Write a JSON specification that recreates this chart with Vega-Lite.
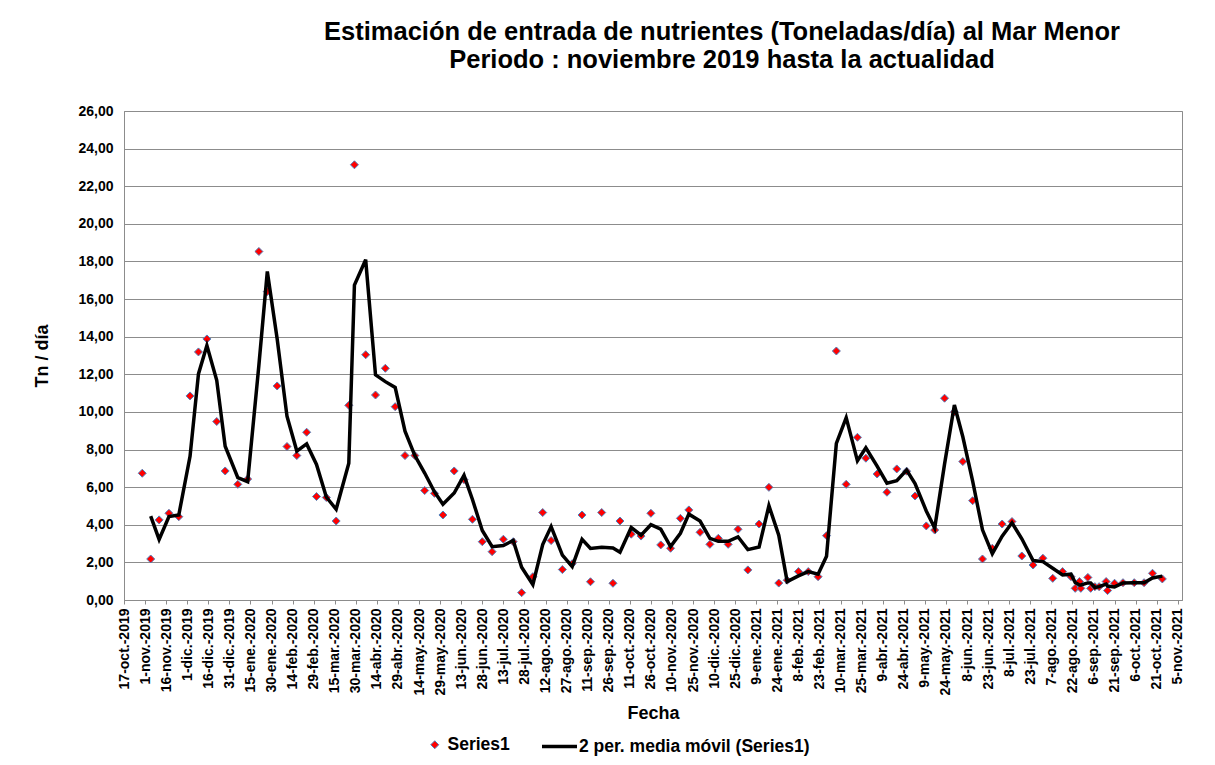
{
  "$schema": "https://vega.github.io/schema/vega-lite/v6.json",
  "width": 1058,
  "height": 489,
  "autosize": {"type": "none"},
  "padding": {"left": 124, "top": 111, "right": 33, "bottom": 165},
  "background": "white",
  "title": {
    "text": ["Estimación de entrada de nutrientes (Toneladas/día) al  Mar Menor", "Periodo : noviembre 2019 hasta la actualidad"],
    "font": "Liberation Sans",
    "fontSize": 25.5,
    "fontWeight": "bold",
    "color": "black",
    "anchor": "middle",
    "frame": "group",
    "dx": 69,
    "lineHeight": 28,
    "offset": 31
  },
  "data": {
    "values": [
      {"fecha": "2019-10-30", "valor": 6.74},
      {"fecha": "2019-11-05", "valor": 2.18},
      {"fecha": "2019-11-11", "valor": 4.26},
      {"fecha": "2019-11-18", "valor": 4.61},
      {"fecha": "2019-11-25", "valor": 4.43},
      {"fecha": "2019-12-03", "valor": 10.85},
      {"fecha": "2019-12-09", "valor": 13.19},
      {"fecha": "2019-12-15", "valor": 13.88},
      {"fecha": "2019-12-22", "valor": 9.49},
      {"fecha": "2019-12-28", "valor": 6.86},
      {"fecha": "2020-01-06", "valor": 6.15},
      {"fecha": "2020-01-13", "valor": 6.43},
      {"fecha": "2020-01-21", "valor": 18.53},
      {"fecha": "2020-01-27", "valor": 16.4},
      {"fecha": "2020-02-03", "valor": 11.38},
      {"fecha": "2020-02-10", "valor": 8.16},
      {"fecha": "2020-02-17", "valor": 7.68},
      {"fecha": "2020-02-24", "valor": 8.92},
      {"fecha": "2020-03-02", "valor": 5.5},
      {"fecha": "2020-03-09", "valor": 5.45},
      {"fecha": "2020-03-16", "valor": 4.2},
      {"fecha": "2020-03-25", "valor": 10.35},
      {"fecha": "2020-03-29", "valor": 23.14},
      {"fecha": "2020-04-06", "valor": 13.04},
      {"fecha": "2020-04-13", "valor": 10.9},
      {"fecha": "2020-04-20", "valor": 12.32},
      {"fecha": "2020-04-27", "valor": 10.28},
      {"fecha": "2020-05-04", "valor": 7.68},
      {"fecha": "2020-05-11", "valor": 7.68},
      {"fecha": "2020-05-18", "valor": 5.82},
      {"fecha": "2020-05-25", "valor": 5.67},
      {"fecha": "2020-05-31", "valor": 4.52},
      {"fecha": "2020-06-08", "valor": 6.86},
      {"fecha": "2020-06-15", "valor": 6.4},
      {"fecha": "2020-06-21", "valor": 4.29},
      {"fecha": "2020-06-28", "valor": 3.1},
      {"fecha": "2020-07-05", "valor": 2.57},
      {"fecha": "2020-07-13", "valor": 3.23},
      {"fecha": "2020-07-20", "valor": 3.1},
      {"fecha": "2020-07-26", "valor": 0.39},
      {"fecha": "2020-08-03", "valor": 1.24},
      {"fecha": "2020-08-10", "valor": 4.65},
      {"fecha": "2020-08-16", "valor": 3.16},
      {"fecha": "2020-08-24", "valor": 1.62},
      {"fecha": "2020-08-31", "valor": 1.93},
      {"fecha": "2020-09-07", "valor": 4.52},
      {"fecha": "2020-09-13", "valor": 0.97},
      {"fecha": "2020-09-21", "valor": 4.65},
      {"fecha": "2020-09-29", "valor": 0.89},
      {"fecha": "2020-10-04", "valor": 4.2},
      {"fecha": "2020-10-12", "valor": 3.5},
      {"fecha": "2020-10-19", "valor": 3.4},
      {"fecha": "2020-10-26", "valor": 4.61},
      {"fecha": "2020-11-02", "valor": 2.93},
      {"fecha": "2020-11-09", "valor": 2.75},
      {"fecha": "2020-11-16", "valor": 4.34},
      {"fecha": "2020-11-22", "valor": 4.79},
      {"fecha": "2020-11-30", "valor": 3.6},
      {"fecha": "2020-12-07", "valor": 2.96},
      {"fecha": "2020-12-13", "valor": 3.28},
      {"fecha": "2020-12-20", "valor": 2.96},
      {"fecha": "2020-12-27", "valor": 3.76},
      {"fecha": "2021-01-03", "valor": 1.6},
      {"fecha": "2021-01-11", "valor": 4.04},
      {"fecha": "2021-01-18", "valor": 5.99},
      {"fecha": "2021-01-25", "valor": 0.9},
      {"fecha": "2021-01-31", "valor": 1.05},
      {"fecha": "2021-02-08", "valor": 1.51},
      {"fecha": "2021-02-15", "valor": 1.51},
      {"fecha": "2021-02-22", "valor": 1.24},
      {"fecha": "2021-02-28", "valor": 3.42},
      {"fecha": "2021-03-07", "valor": 13.24},
      {"fecha": "2021-03-14", "valor": 6.15},
      {"fecha": "2021-03-22", "valor": 8.65},
      {"fecha": "2021-03-28", "valor": 7.54},
      {"fecha": "2021-04-05", "valor": 6.7},
      {"fecha": "2021-04-12", "valor": 5.73},
      {"fecha": "2021-04-19", "valor": 6.97},
      {"fecha": "2021-04-26", "valor": 6.85},
      {"fecha": "2021-05-02", "valor": 5.53},
      {"fecha": "2021-05-10", "valor": 3.94},
      {"fecha": "2021-05-16", "valor": 3.72},
      {"fecha": "2021-05-23", "valor": 10.73},
      {"fecha": "2021-05-30", "valor": 10.0},
      {"fecha": "2021-06-05", "valor": 7.36},
      {"fecha": "2021-06-12", "valor": 5.28},
      {"fecha": "2021-06-19", "valor": 2.18},
      {"fecha": "2021-06-26", "valor": 2.75},
      {"fecha": "2021-07-03", "valor": 4.04},
      {"fecha": "2021-07-10", "valor": 4.17},
      {"fecha": "2021-07-17", "valor": 2.34},
      {"fecha": "2021-07-25", "valor": 1.86},
      {"fecha": "2021-08-01", "valor": 2.22},
      {"fecha": "2021-08-08", "valor": 1.15},
      {"fecha": "2021-08-15", "valor": 1.51},
      {"fecha": "2021-08-21", "valor": 1.24},
      {"fecha": "2021-08-24", "valor": 0.62},
      {"fecha": "2021-08-27", "valor": 0.98},
      {"fecha": "2021-08-28", "valor": 0.62},
      {"fecha": "2021-09-02", "valor": 1.2},
      {"fecha": "2021-09-04", "valor": 0.62},
      {"fecha": "2021-09-07", "valor": 0.71},
      {"fecha": "2021-09-10", "valor": 0.71},
      {"fecha": "2021-09-15", "valor": 0.98},
      {"fecha": "2021-09-16", "valor": 0.5},
      {"fecha": "2021-09-21", "valor": 0.89},
      {"fecha": "2021-09-27", "valor": 0.92},
      {"fecha": "2021-10-05", "valor": 0.92},
      {"fecha": "2021-10-12", "valor": 0.92},
      {"fecha": "2021-10-18", "valor": 1.42},
      {"fecha": "2021-10-25", "valor": 1.12}
    ]
  },
  "encoding": {
    "x": {
      "field": "fecha",
      "type": "temporal",
      "title": "Fecha",
      "scale": {
        "type": "utc",
        "domain": [
          {"year": 2019, "month": 10, "date": 17, "utc": true},
          {"year": 2021, "month": 11, "date": 8, "utc": true}
        ]
      },
      "axis": {
        "values": [
          {"year": 2019, "month": 10, "date": 17, "utc": true},
          {"year": 2019, "month": 11, "date": 1, "utc": true},
          {"year": 2019, "month": 11, "date": 16, "utc": true},
          {"year": 2019, "month": 12, "date": 1, "utc": true},
          {"year": 2019, "month": 12, "date": 16, "utc": true},
          {"year": 2019, "month": 12, "date": 31, "utc": true},
          {"year": 2020, "month": 1, "date": 15, "utc": true},
          {"year": 2020, "month": 1, "date": 30, "utc": true},
          {"year": 2020, "month": 2, "date": 14, "utc": true},
          {"year": 2020, "month": 2, "date": 29, "utc": true},
          {"year": 2020, "month": 3, "date": 15, "utc": true},
          {"year": 2020, "month": 3, "date": 30, "utc": true},
          {"year": 2020, "month": 4, "date": 14, "utc": true},
          {"year": 2020, "month": 4, "date": 29, "utc": true},
          {"year": 2020, "month": 5, "date": 14, "utc": true},
          {"year": 2020, "month": 5, "date": 29, "utc": true},
          {"year": 2020, "month": 6, "date": 13, "utc": true},
          {"year": 2020, "month": 6, "date": 28, "utc": true},
          {"year": 2020, "month": 7, "date": 13, "utc": true},
          {"year": 2020, "month": 7, "date": 28, "utc": true},
          {"year": 2020, "month": 8, "date": 12, "utc": true},
          {"year": 2020, "month": 8, "date": 27, "utc": true},
          {"year": 2020, "month": 9, "date": 11, "utc": true},
          {"year": 2020, "month": 9, "date": 26, "utc": true},
          {"year": 2020, "month": 10, "date": 11, "utc": true},
          {"year": 2020, "month": 10, "date": 26, "utc": true},
          {"year": 2020, "month": 11, "date": 10, "utc": true},
          {"year": 2020, "month": 11, "date": 25, "utc": true},
          {"year": 2020, "month": 12, "date": 10, "utc": true},
          {"year": 2020, "month": 12, "date": 25, "utc": true},
          {"year": 2021, "month": 1, "date": 9, "utc": true},
          {"year": 2021, "month": 1, "date": 24, "utc": true},
          {"year": 2021, "month": 2, "date": 8, "utc": true},
          {"year": 2021, "month": 2, "date": 23, "utc": true},
          {"year": 2021, "month": 3, "date": 10, "utc": true},
          {"year": 2021, "month": 3, "date": 25, "utc": true},
          {"year": 2021, "month": 4, "date": 9, "utc": true},
          {"year": 2021, "month": 4, "date": 24, "utc": true},
          {"year": 2021, "month": 5, "date": 9, "utc": true},
          {"year": 2021, "month": 5, "date": 24, "utc": true},
          {"year": 2021, "month": 6, "date": 8, "utc": true},
          {"year": 2021, "month": 6, "date": 23, "utc": true},
          {"year": 2021, "month": 7, "date": 8, "utc": true},
          {"year": 2021, "month": 7, "date": 23, "utc": true},
          {"year": 2021, "month": 8, "date": 7, "utc": true},
          {"year": 2021, "month": 8, "date": 22, "utc": true},
          {"year": 2021, "month": 9, "date": 6, "utc": true},
          {"year": 2021, "month": 9, "date": 21, "utc": true},
          {"year": 2021, "month": 10, "date": 6, "utc": true},
          {"year": 2021, "month": 10, "date": 21, "utc": true},
          {"year": 2021, "month": 11, "date": 5, "utc": true}
        ],
        "labelExpr": "utcdate(datum.value) + '-' + ['ene.','feb.','mar.','abr.','may.','jun.','jul.','ago.','sep.','oct.','nov.','dic.'][utcmonth(datum.value)] + '-' + utcyear(datum.value)",
        "labelAngle": 270,
        "labelFontSize": 14,
        "labelPadding": 4,
        "ticks": true,
        "tickSize": 4,
        "tickColor": "#8c8c8c",
        "grid": false,
        "domainColor": "#8c8c8c",
        "titleFontSize": 18,
        "titlePadding": 10,
        "labelOverlap": false,
        "labelBound": false,
        "labelFlush": false
      }
    },
    "y": {
      "field": "valor",
      "type": "quantitative",
      "title": "Tn  / día",
      "scale": {"domain": [0, 26], "nice": false},
      "axis": {
        "values": [0, 2, 4, 6, 8, 10, 12, 14, 16, 18, 20, 22, 24, 26],
        "labelExpr": "replace(format(datum.value, '.2f'), '.', ',')",
        "labelFontSize": 14,
        "labelPadding": 11,
        "ticks": false,
        "grid": true,
        "gridColor": "#8c8c8c",
        "domainColor": "#8c8c8c",
        "titleFontSize": 18,
        "titlePadding": 26
      }
    }
  },
  "layer": [
    {
      "mark": {"type": "point", "shape": "diamond", "filled": true, "size": 64, "stroke": "#4F81BD", "strokeWidth": 1, "opacity": 1},
      "encoding": {
        "color": {
          "datum": "Series1",
          "type": "nominal",
          "scale": {"range": ["#FF0000"]},
          "legend": {
            "title": null,
            "orient": "none",
            "legendX": 302,
            "legendY": 625,
            "padding": 0,
            "symbolType": "diamond",
            "symbolSize": 64,
            "symbolFillColor": "#FF0000",
            "symbolStrokeColor": "#4F81BD",
            "symbolStrokeWidth": 1,
            "labelFontSize": 17.5,
            "labelFontWeight": "bold",
            "labelColor": "black",
            "labelFont": "Liberation Sans",
            "labelOffset": 4,
            "labelLimit": 0
          }
        }
      }
    },
    {
      "transform": [
        {"window": [{"op": "mean", "field": "valor", "as": "media"}, {"op": "row_number", "as": "n"}], "sort": [{"field": "fecha"}], "frame": [-1, 0]},
        {"filter": "datum.n > 1"}
      ],
      "mark": {"type": "line", "strokeWidth": 3.5, "color": "black"},
      "encoding": {
        "y": {"field": "media", "type": "quantitative"},
        "color": {
          "datum": "2 per. media móvil (Series1)",
          "type": "nominal",
          "scale": {"range": ["#000000"]},
          "legend": {
            "title": null,
            "orient": "none",
            "legendX": 416,
            "legendY": 616,
            "padding": 0,
            "symbolType": "stroke",
            "symbolSize": 1225,
            "symbolStrokeColor": "black",
            "symbolStrokeWidth": 3.5,
            "labelFontSize": 17.5,
            "labelFontWeight": "bold",
            "labelColor": "black",
            "labelFont": "Liberation Sans",
            "labelOffset": 0,
            "labelLimit": 0
          }
        }
      }
    }
  ],
  "resolve": {"scale": {"color": "independent"}, "legend": {"color": "independent"}},
  "config": {
    "font": "Liberation Sans",
    "view": {"stroke": "#8c8c8c", "strokeWidth": 1},
    "axis": {
      "labelFont": "Liberation Sans",
      "titleFont": "Liberation Sans",
      "labelFontWeight": "bold",
      "titleFontWeight": "bold",
      "labelColor": "black",
      "titleColor": "black",
      "gridOpacity": 1
    }
  }
}
